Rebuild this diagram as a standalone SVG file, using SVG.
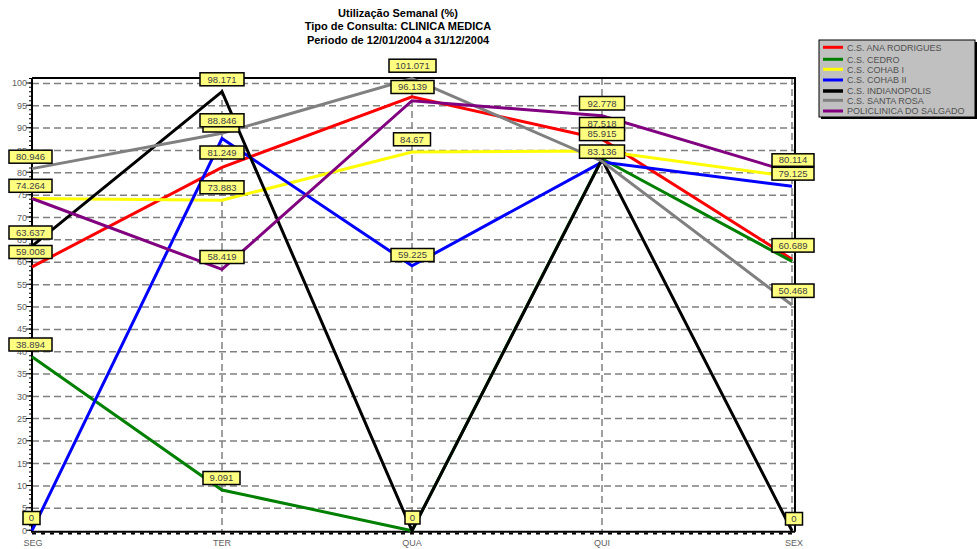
<svg xmlns="http://www.w3.org/2000/svg" width="977" height="549" viewBox="0 0 977 549">
<style>
.bg{fill:#ffffff}
.title{font-family:"Liberation Sans",Arial,sans-serif;font-size:11px;font-weight:bold;fill:#000;text-anchor:middle}
.grid{stroke:#808080;stroke-width:1.5;stroke-dasharray:7 4;fill:none}
.axis{stroke:#000;stroke-width:2;fill:none}
.tick{font-family:"Liberation Sans",Arial,sans-serif;font-size:9px;fill:#606060;text-anchor:end}
.xl{font-family:"Liberation Sans",Arial,sans-serif;font-size:9px;fill:#606060;text-anchor:middle}
.ser{fill:none;stroke-width:3;stroke-linejoin:miter}
.lb rect{fill:#ffff80;stroke:#000;stroke-width:1.5}
.lb text{font-family:"Liberation Sans",Arial,sans-serif;font-size:9.5px;fill:#404040;text-anchor:middle}
.leg{font-family:"Liberation Sans",Arial,sans-serif;font-size:9px;fill:#505050}
</style>
<rect class="bg" x="0" y="0" width="977" height="549"/>
<g id="title">
<text class="title" x="398" y="17">Utilização Semanal (%)</text>
<text class="title" x="398" y="30">Tipo de Consulta: CLINICA MEDICA</text>
<text class="title" x="398" y="44">Periodo de 12/01/2004 a 31/12/2004</text>
</g>
<g id="grid">
<path class="grid" d="M32 508.3H795M32 485.9H795M32 463.5H795M32 441.1H795M32 418.6H795M32 396.5H795M32 373.9H795M32 351.8H795M32 329.4H795M32 307H795M32 284.7H795M32 262.3H795M32 239.8H795M32 217.6H795M32 195.2H795M32 172.8H795M32 150.5H795M32 128.1H795M32 105.8H795M32 83.4H795"/>
<path class="grid" d="M222 78V531M412 78V531M602 78V531M792 78V531"/>
</g>
<g id="axes">
<path class="axis" d="M32 78H795V531.7M32 78V531.7H795"/>
<line x1="30.5" y1="530.7" x2="30.5" y2="78" stroke="#000" stroke-width="3" stroke-dasharray="1 3.473"/>
<line x1="29" y1="530.7" x2="29" y2="78" stroke="#000" stroke-width="6" stroke-dasharray="1 21.365"/>
<line x1="32" y1="533.5" x2="795" y2="533.5" stroke="#000" stroke-width="2" stroke-dasharray="4 5"/>
<text class="tick" x="27" y="533.7">0</text>
<text class="tick" x="27" y="511.3">5</text>
<text class="tick" x="27" y="488.9">10</text>
<text class="tick" x="27" y="466.5">15</text>
<text class="tick" x="27" y="444.1">20</text>
<text class="tick" x="27" y="421.6">25</text>
<text class="tick" x="27" y="399.5">30</text>
<text class="tick" x="27" y="376.9">35</text>
<text class="tick" x="27" y="354.8">40</text>
<text class="tick" x="27" y="332.4">45</text>
<text class="tick" x="27" y="310">50</text>
<text class="tick" x="27" y="287.7">55</text>
<text class="tick" x="27" y="265.3">60</text>
<text class="tick" x="27" y="242.8">65</text>
<text class="tick" x="27" y="220.6">70</text>
<text class="tick" x="27" y="198.2">75</text>
<text class="tick" x="27" y="175.8">80</text>
<text class="tick" x="27" y="153.5">85</text>
<text class="tick" x="27" y="131.1">90</text>
<text class="tick" x="27" y="108.8">95</text>
<text class="tick" x="27" y="86.4">100</text>
<text class="xl" x="33" y="546">SEG</text>
<text class="xl" x="222" y="546">TER</text>
<text class="xl" x="412" y="546">QUA</text>
<text class="xl" x="602" y="546">QUI</text>
<text class="xl" x="794" y="546">SEX</text>
</g>
<g id="connectors">
<polyline id="s-ana" class="ser" stroke="#ff0000" points="32,266.8 222,167.3 412,96.8 602,139.2 792,259.2"/>
<polyline id="s-cedro" class="ser" stroke="#008000" points="32,356.7 222,490 412,530.7 602,158.8 792,261.4"/>
<polyline id="s-cohab1" class="ser" stroke="#ffff00" points="32,198.5 222,200.2 412,152 602,150.9 792,176.8"/>
<polyline id="s-cohab2" class="ser" stroke="#0000ff" points="32,530.7 222,138.5 412,265.8 602,162.1 792,186.3"/>
<polyline id="s-indianopolis" class="ser" stroke="#000000" points="32,246.1 222,91.6 412,530.7 602,159.4 792,530.7"/>
<polyline id="s-santarosa" class="ser" stroke="#808080" points="32,168.6 222,133.3 412,78.6 602,161.2 792,305"/>
<polyline id="s-policlinica" class="ser" stroke="#800080" points="32,198.5 222,269.4 412,100.7 602,115.7 792,172.4"/>
</g>
<g id="labels" class="lb">
<g id="lb-seg-1"><rect x="9" y="150.2" width="43" height="13"/><text x="30.5" y="160">80.946</text></g>
<g id="lb-seg-2"><rect x="9" y="179.3" width="43" height="13"/><text x="30.5" y="189.1">74.264</text></g>
<g id="lb-seg-3"><rect x="9" y="226" width="43" height="13"/><text x="30.5" y="235.8">63.637</text></g>
<g id="lb-seg-4"><rect x="9" y="245.5" width="43" height="13"/><text x="30.5" y="255.3">59.008</text></g>
<g id="lb-seg-5"><rect x="9" y="338" width="43" height="13"/><text x="30.5" y="347.8">38.894</text></g>
<g id="lb-seg-6"><rect x="23" y="511.5" width="17" height="13"/><text x="31.5" y="521.3">0</text></g>
<g id="lb-ter-1"><rect x="200" y="72.8" width="44" height="13"/><text x="222" y="82.6">98.171</text></g>
<g id="lb-ter-2"><rect x="203" y="119" width="36" height="13"/></g>
<g id="lb-ter-3"><rect x="200" y="113.8" width="44" height="13"/><text x="222" y="123.6">88.846</text></g>
<g id="lb-ter-4"><rect x="200" y="146" width="44" height="13"/><text x="222" y="155.8">81.249</text></g>
<g id="lb-ter-5"><rect x="200" y="180.8" width="44" height="13"/><text x="222" y="190.6">73.883</text></g>
<g id="lb-ter-6"><rect x="200" y="250.5" width="44" height="13"/><text x="222" y="260.3">58.419</text></g>
<g id="lb-ter-7"><rect x="203" y="471.5" width="37" height="13"/><text x="221.5" y="481.3">9.091</text></g>
<g id="lb-qua-1"><rect x="389" y="59.2" width="47" height="13"/><text x="412.5" y="69">101.071</text></g>
<g id="lb-qua-2"><rect x="391" y="80.5" width="43" height="13"/><text x="412.5" y="90.3">96.139</text></g>
<g id="lb-qua-3"><rect x="393.5" y="132.8" width="37" height="13"/><text x="412" y="142.6">84.67</text></g>
<g id="lb-qua-4"><rect x="391" y="248.5" width="43" height="13"/><text x="412.5" y="258.3">59.225</text></g>
<g id="lb-qua-5"><rect x="405" y="511" width="15" height="13"/><text x="412.5" y="520.8">0</text></g>
<g id="lb-qui-1"><rect x="579.5" y="96.5" width="45" height="13.5"/><text x="602" y="106.5">92.778</text></g>
<g id="lb-qui-2"><rect x="579.5" y="117.5" width="45" height="13"/><text x="602" y="127.3">87.518</text></g>
<g id="lb-qui-3"><rect x="579.5" y="127.6" width="45" height="13"/><text x="602" y="137.4">85.915</text></g>
<g id="lb-qui-4"><rect x="579.5" y="145" width="45" height="13.3"/><text x="602" y="154.9">83.136</text></g>
<g id="lb-sex-1"><rect x="772" y="153.8" width="42" height="12.5"/><text x="793" y="163.4">80.114</text></g>
<g id="lb-sex-2"><rect x="772" y="167.3" width="42" height="12.8"/><text x="793" y="177">79.125</text></g>
<g id="lb-sex-3"><rect x="772" y="238.6" width="42" height="13.5"/><text x="793" y="248.6">60.689</text></g>
<g id="lb-sex-4"><rect x="772" y="284" width="42" height="13.4"/><text x="793" y="294">50.468</text></g>
<g id="lb-sex-5"><rect x="785.5" y="512.5" width="17" height="12.5"/><text x="794" y="522">0</text></g>
</g>
<g id="legend">
<rect x="821" y="42" width="156" height="77" fill="#000"/>
<rect x="819" y="40" width="156" height="77" fill="#c0c0c0" stroke="#000" stroke-width="1"/>
<line x1="823" y1="47.3" x2="843" y2="47.3" stroke="#ff0000" stroke-width="3"/>
<text class="leg" x="847" y="50.5">C.S. ANA RODRIGUES</text>
<line x1="823" y1="59.3" x2="843" y2="59.3" stroke="#008000" stroke-width="3"/>
<text class="leg" x="847" y="62.5">C.S. CEDRO</text>
<line x1="823" y1="69.3" x2="843" y2="69.3" stroke="#ffff00" stroke-width="3"/>
<text class="leg" x="847" y="72.5">C.S. COHAB I</text>
<line x1="823" y1="80" x2="843" y2="80" stroke="#0000ff" stroke-width="3"/>
<text class="leg" x="847" y="83.2">C.S. COHAB II</text>
<line x1="823" y1="91" x2="843" y2="91" stroke="#000000" stroke-width="3.5"/>
<text class="leg" x="847" y="94.2">C.S. INDIANOPOLIS</text>
<line x1="823" y1="100.3" x2="843" y2="100.3" stroke="#808080" stroke-width="3"/>
<text class="leg" x="847" y="103.5">C.S. SANTA ROSA</text>
<line x1="823" y1="111" x2="843" y2="111" stroke="#800080" stroke-width="3"/>
<text class="leg" x="847" y="114.2">POLICLINICA DO SALGADO</text>
</g>
</svg>
